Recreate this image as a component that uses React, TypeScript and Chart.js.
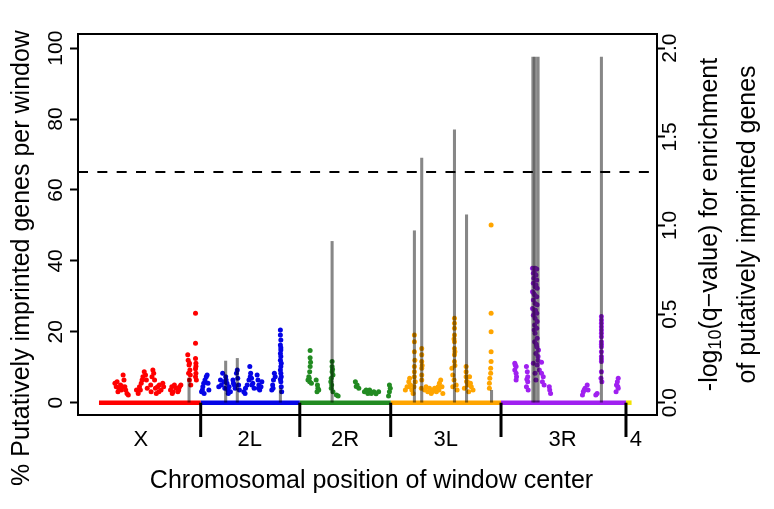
import React, { useEffect, useRef } from 'react';
import { Chart, registerables } from 'chart.js';

Chart.register(...registerables);

// ---------- data ----------
const CHROM_NAMES = ['X', '2L', '2R', '3L', '3R', '4'];
const CHROM_COLORS = ['#FF0000', '#0505E6', '#228B22', '#FFA500', '#A020F0', '#F2E200'];
// cumulative genomic coordinates (Mb) of each arm
const CHROM_START = [0, 23.6, 46.6, 67.7, 93.3, 122.3];
const CHROM_END = [23.6, 46.6, 67.7, 93.3, 122.3, 123.6];
const CHROM_LABEL_POS = [9.7, 35.0, 57.1, 80.5, 107.6, 124.6];
const ARM_BOUNDARIES = [23.6, 46.6, 67.7, 93.3, 122.3];

// % putatively imprinted genes per window (non-zero windows) : [position Mb, percent]
const PCT_X: [number, number][] = [
  [3.7, 5.5], [4.0, 4.5], [4.2, 5.9], [4.6, 4.1], [5.0, 5.0], [5.2, 3.6], [5.6, 7.8], [5.8, 6.4], [6.0, 4.5], [6.2, 3.6], [6.5, 2.6], [6.8, 2.2],
  [4.4, 3.1], [5.4, 4.5],
  [8.7, 3.6], [9.1, 2.6], [9.4, 4.5], [9.8, 5.5], [10.2, 7.3], [10.5, 8.7], [10.8, 7.8], [11.0, 6.4], [11.2, 4.1],
  [9.6, 3.6], [10.0, 6.4],
  [12.0, 5.0], [12.3, 7.3], [12.5, 9.2], [12.7, 8.3], [12.9, 6.4], [13.1, 4.1], [13.3, 2.6], [13.6, 4.5], [14.0, 5.0], [14.4, 3.6], [14.8, 5.5], [15.0, 4.5],
  [12.1, 3.1], [13.9, 3.1],
  [16.6, 3.6], [16.9, 4.5], [17.2, 3.1], [17.5, 5.0], [17.9, 4.1], [18.3, 3.1], [18.7, 4.5], [19.0, 5.0],
  [17.0, 2.6], [18.5, 3.6],
  [20.6, 13.5], [20.7, 12.0], [20.9, 10.6], [21.1, 9.2], [21.2, 7.8], [21.0, 6.4], [21.3, 5.0], [21.0, 11.1], [20.8, 8.3],
  [22.4, 25.2], [22.4, 16.8], [22.4, 12.5], [22.5, 11.1], [22.4, 9.6], [22.5, 8.3], [22.4, 7.3], [22.6, 6.4], [22.5, 10.3],
];
const PCT_2L: [number, number][] = [
  [23.8, 3.1], [24.1, 4.5], [24.3, 5.5], [24.6, 6.4], [24.9, 7.3], [25.1, 7.8], [25.3, 5.5], [25.5, 3.6], [24.4, 2.6], [24.0, 3.6],
  [27.8, 4.5], [28.2, 6.4], [28.7, 8.3], [29.0, 5.9], [29.2, 4.1], [29.4, 7.3], [29.7, 5.5], [29.9, 3.6], [30.2, 4.5], [30.5, 3.1],
  [28.4, 5.0], [29.5, 6.4], [30.0, 2.6],
  [31.1, 6.4], [31.4, 5.0], [31.6, 4.1], [31.9, 8.3], [32.1, 9.2], [32.2, 6.9], [32.4, 5.0], [32.6, 3.6], [31.2, 5.5],
  [33.6, 3.1], [34.0, 4.1], [34.4, 5.0], [34.8, 6.4], [35.0, 10.2], [35.2, 8.3], [35.4, 6.9], [35.7, 5.5], [36.0, 4.1],
  [33.9, 2.6], [35.1, 7.3], [35.5, 5.0],
  [36.7, 7.8], [36.9, 6.4], [37.1, 5.0], [37.3, 3.6], [37.6, 4.5], [37.8, 5.9], [37.0, 4.1],
  [40.1, 3.6], [40.3, 5.0], [40.5, 6.4], [40.7, 8.3], [40.9, 7.3], [40.4, 4.1],
  [42.1, 20.5], [42.1, 19.1], [42.2, 17.7], [42.1, 16.3], [42.2, 14.9], [42.1, 13.9], [42.2, 13.0], [42.1, 12.0], [42.3, 11.1], [42.2, 10.2],
  [42.1, 9.2], [42.2, 8.3], [42.3, 7.3], [42.2, 5.9], [42.3, 4.5], [42.4, 3.1], [42.2, 15.5], [42.1, 6.6],
];
const PCT_2R: [number, number][] = [
  [49.0, 14.7], [49.0, 12.7], [49.0, 10.2], [48.9, 8.7], [48.7, 7.3], [48.5, 6.4], [48.9, 5.9], [49.3, 5.5], [49.1, 11.4], [48.8, 6.9],
  [50.4, 6.4], [50.7, 5.0], [50.8, 4.1], [51.0, 3.6], [50.6, 3.1],
  [54.1, 11.6], [54.1, 10.2], [54.1, 8.7], [54.3, 7.8], [53.9, 6.9], [53.8, 5.9], [53.9, 4.1], [54.3, 3.1], [55.1, 2.2], [55.5, 1.9],
  [54.2, 9.4], [54.0, 5.0],
  [59.5, 5.9], [59.9, 5.0], [60.3, 4.1], [59.7, 4.6],
  [61.6, 3.1], [62.0, 3.6], [62.4, 2.6], [62.8, 3.6], [63.8, 3.1], [64.3, 2.5], [64.9, 3.1], [63.2, 2.6],
  [67.4, 5.0], [67.6, 4.1], [67.4, 3.1], [67.2, 1.9],
];
const PCT_3L: [number, number][] = [
  [71.1, 3.6], [71.5, 4.5], [71.9, 5.9], [72.1, 6.9], [72.3, 5.0], [72.6, 3.6], [72.9, 2.6], [72.0, 4.5],
  [73.2, 19.1], [73.2, 17.2], [73.2, 14.4], [73.2, 10.2], [73.2, 8.7], [73.2, 7.3], [73.4, 5.9], [73.3, 12.0], [73.1, 4.5],
  [74.9, 15.3], [74.9, 13.5], [74.9, 11.6], [74.9, 9.7], [74.9, 7.8], [74.9, 6.4], [74.8, 4.1], [75.0, 10.5],
  [75.6, 3.6], [75.9, 4.5], [76.3, 3.1], [76.7, 4.1], [77.1, 2.6], [77.5, 3.6], [77.9, 4.1], [78.3, 3.1], [78.7, 4.5], [79.0, 5.5], [79.3, 6.4], [79.6, 4.5], [79.8, 2.6],
  [77.3, 3.1], [78.9, 3.6],
  [82.5, 23.8], [82.5, 22.4], [82.5, 21.0], [82.5, 19.1], [82.5, 17.2], [82.5, 15.3], [82.5, 13.5], [82.5, 11.6], [81.9, 9.7], [82.1, 7.8], [82.4, 6.4], [82.9, 5.0], [83.1, 3.6], [82.1, 4.5],
  [82.4, 18.0], [82.6, 14.4], [82.6, 10.5],
  [85.2, 10.2], [85.2, 8.7], [85.2, 7.3], [85.5, 5.9], [85.6, 5.0], [84.8, 4.1], [86.0, 7.3], [86.4, 4.5], [86.8, 3.6], [85.8, 3.1], [85.3, 6.0], [86.2, 5.5],
  [91.0, 50.1], [91.0, 25.2], [91.0, 20.0], [91.0, 14.4], [91.0, 11.6], [90.9, 9.7], [90.9, 8.3], [90.7, 6.9], [90.6, 5.5], [90.6, 4.1],
];
const PCT_3R: [number, number][] = [
  [96.5, 11.1], [96.8, 10.2], [96.5, 9.2], [96.8, 8.3], [96.9, 7.3], [96.8, 6.4], [96.6, 10.6],
  [99.2, 10.2], [99.4, 8.7], [99.5, 7.3], [99.5, 5.9], [99.2, 4.5], [99.6, 3.6], [99.3, 6.6],
  [100.6, 37.9], [101.2, 37.9], [101.6, 37.7], [100.8, 36.5], [101.4, 36.0], [100.9, 35.1], [101.6, 34.6], [100.8, 33.7], [101.2, 32.7], [101.7, 32.3],
  [100.6, 31.3], [101.1, 30.4], [101.6, 29.9], [100.8, 29.0], [101.2, 28.0], [101.7, 27.6], [100.6, 26.6], [101.1, 25.7], [101.6, 25.2], [100.8, 24.7],
  [101.2, 23.8], [101.7, 22.9], [101.1, 21.9], [101.6, 21.0], [101.2, 19.6], [101.7, 18.2], [101.1, 17.2], [101.6, 15.8], [102.0, 14.9], [101.4, 13.9],
  [101.9, 13.0], [100.8, 11.1], [101.7, 10.6], [102.7, 11.4], [102.2, 9.2], [101.2, 8.3], [102.7, 8.3], [101.4, 6.4], [103.1, 7.3], [102.9, 5.9],
  [103.3, 5.0], [104.5, 4.5], [104.6, 3.6], [104.8, 2.6],
  [101.0, 36.8], [101.4, 33.2], [100.9, 30.8], [101.3, 26.1], [101.0, 20.5], [101.5, 16.5], [101.9, 12.0],
  [112.4, 3.1], [112.8, 4.1], [113.3, 5.0], [113.5, 3.6], [112.2, 2.2], [112.6, 3.6],
  [115.3, 2.2], [115.6, 2.6],
  [116.6, 24.3], [116.6, 23.3], [116.6, 22.4], [116.6, 21.4], [116.6, 20.5], [116.6, 19.6], [116.6, 18.6], [116.6, 17.2], [116.6, 15.8], [116.6, 14.4],
  [116.6, 13.0], [116.6, 11.6], [116.6, 8.7], [116.5, 6.9], [116.7, 5.9], [116.6, 16.5], [116.6, 12.3],
  [120.5, 6.9], [120.3, 5.9], [120.1, 5.0], [120.5, 4.1], [120.0, 3.1], [120.4, 4.6],
];
const PCT_4: [number, number][] = [];
const PCT_BY_ARM = [PCT_X, PCT_2L, PCT_2R, PCT_3L, PCT_3R, PCT_4];

// -log10(q-value) for enrichment per window : [position Mb, value]
const NEG_LOG_Q: [number, number][] = [
  [20.9, 0.14],
  [29.4, 0.235], [32.1, 0.25], [42.1, 0.08],
  [54.1, 0.91],
  [73.2, 0.97], [74.9, 1.38], [82.5, 1.54], [85.3, 1.06], [91.1, 0.07],
  [100.7, 1.95], [101.2, 1.95], [101.9, 1.95], [116.6, 1.95],
];
const Q_THRESHOLD = 0.05;

const LEFT_TICKS = [0, 20, 40, 60, 80, 100];
const RIGHT_TICKS = [0, 0.5, 1.0, 1.5, 2.0];

const X_TITLE = 'Chromosomal position of window center';
const Y_TITLE = '% Putatively imprinted genes per window';
const Y2_TITLE_1 = ['-log', '10', '(q\u2212value) for enrichment'];
const Y2_TITLE_2 = 'of putatively imprinted genes';

const FONT = '"Liberation Sans", Arial, Helvetica, sans-serif';

const decorPlugin = {
  id: 'decor',
  afterDraw(chart: any) {
    const { ctx, chartArea: ca, scales } = chart;
    const xs = scales.x, ys = scales.y, ys2 = scales.y2;
    ctx.save();
    // box
    ctx.strokeStyle = '#000';
    ctx.lineWidth = 2;
    ctx.strokeRect(ca.left, ca.top, ca.right - ca.left, ca.bottom - ca.top);
    // arm boundary ticks
    ctx.lineWidth = 3;
    const y0 = ys.getPixelForValue(0);
    ARM_BOUNDARIES.forEach((b) => {
      const px = xs.getPixelForValue(b);
      ctx.beginPath();
      ctx.moveTo(px, y0);
      ctx.lineTo(px, ca.bottom + 22);
      ctx.stroke();
    });
    // rotated tick labels
    ctx.fillStyle = '#000';
    ctx.font = `21px ${FONT}`;
    ctx.textAlign = 'center';
    ctx.textBaseline = 'middle';
    ys.ticks.forEach((t: any) => {
      const p = ys.getPixelForValue(t.value);
      ctx.save();
      ctx.translate(ca.left - 22, p);
      ctx.rotate(-Math.PI / 2);
      ctx.fillText(String(t.value), 0, 0);
      ctx.restore();
    });
    ys2.ticks.forEach((t: any) => {
      const p = ys2.getPixelForValue(t.value);
      ctx.save();
      ctx.translate(ca.right + 13, p);
      ctx.rotate(-Math.PI / 2);
      ctx.fillText(Number(t.value).toFixed(1), 0, 0);
      ctx.restore();
    });
    // titles
    const cy = (ca.top + ca.bottom) / 2;
    ctx.font = `25px ${FONT}`;
    ctx.fillText(X_TITLE, (ca.left + ca.right) / 2 + 4, 481);
    ctx.save();
    ctx.translate(22, 258);
    ctx.rotate(-Math.PI / 2);
    ctx.fillText(Y_TITLE, 0, 0);
    ctx.restore();
    // right title line 1 with subscript
    ctx.save();
    ctx.translate(ca.right + 53, cy);
    ctx.rotate(-Math.PI / 2);
    const big = `25px ${FONT}`, small = `18px ${FONT}`;
    ctx.font = big; const w1 = ctx.measureText(Y2_TITLE_1[0]).width;
    ctx.font = small; const w2 = ctx.measureText(Y2_TITLE_1[1]).width;
    ctx.font = big; const w3 = ctx.measureText(Y2_TITLE_1[2]).width;
    let sx = -(w1 + w2 + w3) / 2;
    ctx.textAlign = 'left';
    ctx.font = big; ctx.fillText(Y2_TITLE_1[0], sx, 0); sx += w1;
    ctx.font = small; ctx.fillText(Y2_TITLE_1[1], sx, 6); sx += w2;
    ctx.font = big; ctx.fillText(Y2_TITLE_1[2], sx, 0);
    ctx.restore();
    ctx.save();
    ctx.translate(ca.right + 91, cy);
    ctx.rotate(-Math.PI / 2);
    ctx.font = `25px ${FONT}`;
    ctx.textAlign = 'center';
    ctx.fillText(Y2_TITLE_2, 0, 0);
    ctx.restore();
    ctx.restore();
  },
};

export default function App() {
  const ref = useRef<HTMLCanvasElement | null>(null);
  useEffect(() => {
    document.body.style.margin = '0';
    if (!ref.current) return;
    const datasets: any[] = [];
    // baselines (zero windows)
    CHROM_NAMES.forEach((name, i) => {
      datasets.push({
        type: 'line',
        label: name + ' zero',
        data: [{ x: CHROM_START[i], y: 0 }, { x: CHROM_END[i], y: 0 }],
        borderColor: CHROM_COLORS[i],
        borderWidth: 4.5,
        pointRadius: 0,
        yAxisID: 'y',
        order: 6,
      });
    });
    // points
    CHROM_NAMES.forEach((name, i) => {
      datasets.push({
        type: 'scatter',
        label: name,
        data: PCT_BY_ARM[i].map(([x, y]) => ({ x, y })),
        backgroundColor: CHROM_COLORS[i],
        borderWidth: 0,
        pointRadius: 2.5,
        yAxisID: 'y',
        order: 5,
      });
    });
    // q-value spikes
    datasets.push({
      type: 'bar',
      label: 'q',
      data: NEG_LOG_Q.map(([x, y]) => ({ x, y })),
      backgroundColor: 'rgba(0,0,0,0.47)',
      borderWidth: 0,
      barThickness: 2.4,
      yAxisID: 'y2',
      order: 3,
    });
    // significance threshold
    const thr = -Math.log10(Q_THRESHOLD);
    datasets.push({
      type: 'line',
      label: 'threshold',
      data: [{ x: -4.87, y: thr }, { x: 129.5, y: thr }],
      borderColor: '#000',
      borderWidth: 2,
      borderDash: [10, 9.34],
      pointRadius: 0,
      yAxisID: 'y2',
      order: 2,
    });

    const chart = new Chart(ref.current, {
      type: 'scatter',
      data: { datasets },
      plugins: [decorPlugin],
      options: {
        responsive: false,
        animation: false,
        devicePixelRatio: 1,
        layout: { padding: { top: 34, left: 0, right: 0, bottom: 0 } },
        plugins: { legend: { display: false }, tooltip: { enabled: false } },
        scales: {
          x: {
            type: 'linear',
            min: -4.87,
            max: 129.5,
            offset: false,
            afterBuildTicks: (s: any) => { s.ticks = CHROM_LABEL_POS.map((v) => ({ value: v })); },
            afterFit: (s: any) => { s.height = 94; },
            ticks: {
              autoSkip: false,
              maxRotation: 0,
              minRotation: 0,
              padding: 12,
              color: '#000',
              font: { family: FONT, size: 22 },
              callback: (_v: any, i: number) => CHROM_NAMES[i],
            },
            grid: { display: false, drawTicks: false },
            border: { display: false },
          },
          y: {
            type: 'linear',
            position: 'left',
            min: -3.47,
            max: 104.0,
            afterBuildTicks: (s: any) => { s.ticks = LEFT_TICKS.map((v) => ({ value: v })); },
            afterFit: (s: any) => { s.width = 78; },
            ticks: { display: false },
            grid: { drawOnChartArea: false, drawTicks: true, tickLength: 8, tickWidth: 2, tickColor: '#000' },
            border: { display: false },
          },
          y2: {
            type: 'linear',
            position: 'right',
            min: -0.0694,
            max: 2.08,
            afterBuildTicks: (s: any) => { s.ticks = RIGHT_TICKS.map((v) => ({ value: v })); },
            afterFit: (s: any) => { s.width = 117; },
            ticks: { display: false },
            grid: { drawOnChartArea: false, drawTicks: true, tickLength: 8, tickWidth: 2, tickColor: '#000' },
            border: { display: false },
          },
        },
      } as any,
    });
    return () => chart.destroy();
  }, []);
  return (
    <div style={{ position: 'fixed', left: 0, top: 0, background: '#fff' }}>
      <canvas ref={ref} width={774} height={509} style={{ display: 'block', width: 774, height: 509 }} />
    </div>
  );
}
